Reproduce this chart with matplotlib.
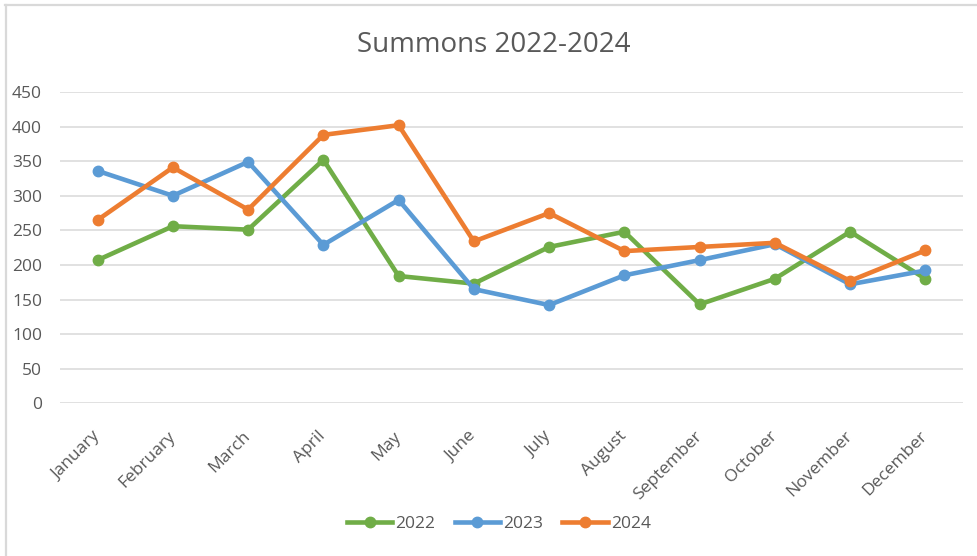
import matplotlib.pyplot as plt
from matplotlib.lines import Line2D

plt.rcParams['font.family'] = ['Open Sans', 'DejaVu Sans']

# monthly summons counts
months = ["January", "February", "March", "April", "May", "June",
          "July", "August", "September", "October", "November", "December"]
y2022 = [207, 256, 251, 352, 184, 173, 226, 248, 143, 180, 248, 180]
y2023 = [336, 300, 349, 229, 294, 165, 142, 185, 207, 230, 172, 192]
y2024 = [265, 341, 280, 388, 402, 234, 275, 220, 226, 232, 177, 221]

series = [("2022", y2022, "#70AD47"),
          ("2023", y2023, "#5B9BD5"),
          ("2024", y2024, "#ED7D31")]

grey = "#595959"

fig = plt.figure(figsize=(9.77, 5.56), dpi=100)
ax = fig.add_axes([60/977, 1 - 403.3/556, 903/977, 311.3/556])

x = range(len(months))
for name, vals, col in series:
    ax.plot(x, vals, color=col, lw=3.3, marker="o", ms=7.5,
            solid_capstyle="round", solid_joinstyle="round", label=name)

ax.set_xlim(-0.5, len(months) - 0.5)
ax.set_ylim(0, 450)
ax.set_yticks(range(0, 451, 50))
ax.set_xticks(list(x))
ax.set_xticklabels(months, rotation=45, ha="right", va="center",
                   rotation_mode="anchor")
ax.tick_params(axis="both", length=0, labelsize=12.5, colors=grey)
ax.tick_params(axis="y", pad=13)
ax.tick_params(axis="x", pad=22)
ax.grid(axis="y", color="#D9D9D9", lw=1.1)
ax.set_axisbelow(True)
for s in ax.spines.values():
    s.set_visible(False)

fig.text(494/977, 1 - 45/556, "Summons 2022-2024", ha="center", va="center",
         fontsize=20, color=grey)

handles = [Line2D([], [], color=c, lw=3.3, marker="o", ms=7.5) for _, _, c in series]
fig.legend(handles, [s[0] for s in series], loc="center",
           bbox_to_anchor=(499/977, 1 - 524/556), ncol=3, frameon=False,
           fontsize=12.5, labelcolor=grey, handlelength=2.6,
           columnspacing=1.1, handletextpad=0.2)

# outer chart border (top and left edges visible)
fig.add_artist(Line2D([5/977, 1], [1 - 5/556, 1 - 5/556], color="#D9D9D9", lw=1.6,
                      transform=fig.transFigure))
fig.add_artist(Line2D([6/977, 6/977], [0, 1 - 5/556], color="#D9D9D9", lw=1.6,
                      transform=fig.transFigure))

fig.savefig("out.png", dpi=100)
